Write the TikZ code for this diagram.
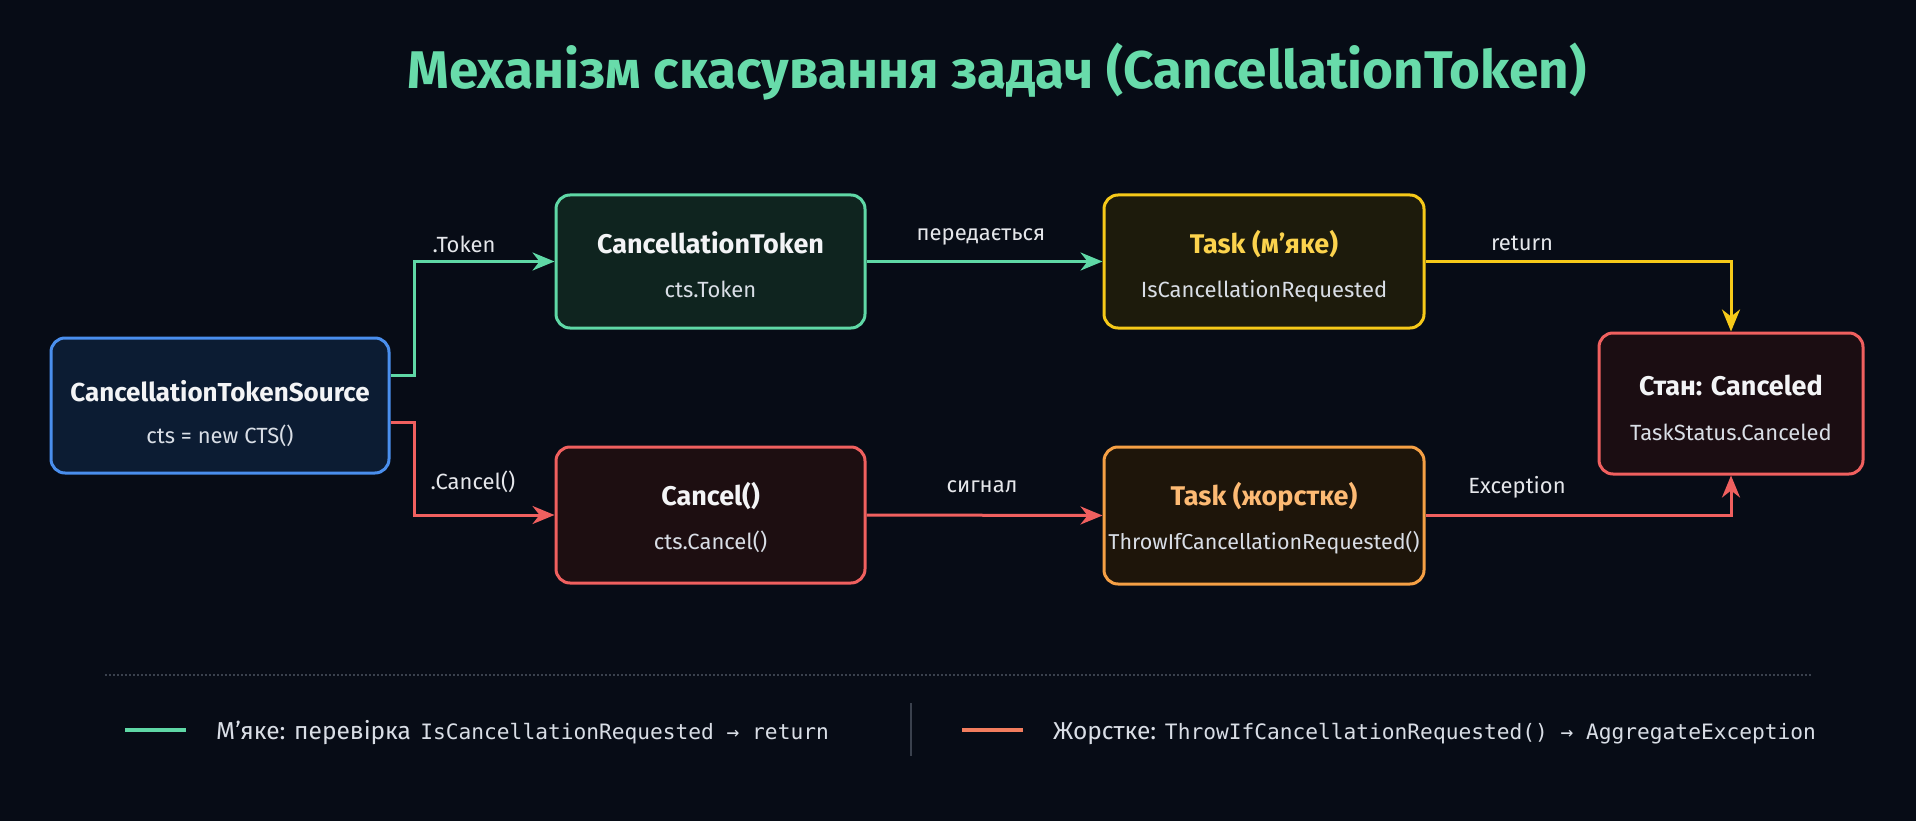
\documentclass[tikz,border=0pt]{standalone}
\usepackage{fontspec}
\setmainfont{Fira Sans}
\newfontfamily\monofam{DejaVu Sans Mono}
\usetikzlibrary{arrows.meta}
\definecolor{bgc}{HTML}{070C16}
\definecolor{headc}{HTML}{68DBAA}
\definecolor{grn}{HTML}{5FD8A6}
\definecolor{grnfill}{HTML}{0F241F}
\definecolor{blu}{HTML}{4A8FEE}
\definecolor{blufill}{HTML}{0C1C33}
\definecolor{yel}{HTML}{F6C919}
\definecolor{yelfill}{HTML}{1D1B0C}
\definecolor{yeltxt}{HTML}{FCD34D}
\definecolor{org}{HTML}{F5A045}
\definecolor{orgfill}{HTML}{1E150A}
\definecolor{orgtxt}{HTML}{FDBA74}
\definecolor{rdc}{HTML}{F0605F}
\definecolor{rdfill}{HTML}{1D0E11}
\definecolor{stfill}{HTML}{1B0D12}
\definecolor{txtw}{HTML}{F3F4F6}
\definecolor{txts}{HTML}{D9DEE6}
\definecolor{lblc}{HTML}{E5E7EB}
\definecolor{sepc}{HTML}{3A414D}
\definecolor{legorg}{HTML}{F27D5E}
\begin{document}
\begin{tikzpicture}[x=1pt,y=-1pt,
  box/.style={draw, line width=3pt, rounded corners=14pt, inner sep=0pt},
  ttl/.style={anchor=base, text=txtw, inner sep=0pt, font=\fontsize{27}{30}\selectfont\bfseries},
  sub/.style={anchor=base, text=txts, inner sep=0pt, font=\fontsize{22}{24}\selectfont},
  lbl/.style={text=lblc, inner sep=0pt, font=\fontsize{22}{24}\selectfont},
  conn/.style={line width=3pt, -{Stealth[length=22pt,width=18pt,inset=7pt]}},
  legtxt/.style={anchor=base west, text=txts, inner sep=0pt, font=\fontsize{24.5}{26}\selectfont},
]
\fill[bgc] (0,0) rectangle (1916,821);
\useasboundingbox (0,0) rectangle (1916,821);

% title
\node[anchor=base, text=headc, inner sep=0pt, font=\fontsize{53}{58}\selectfont\bfseries] (title) at (997,89) {Механізм скасування задач (CancellationToken)};

% boxes
\node[box, draw=blu, fill=blufill, minimum width=338pt, minimum height=135pt] (cts) at (220,405.5) {};
\node[box, draw=grn, fill=grnfill, minimum width=309pt, minimum height=133pt] (ct) at (710.5,261.5) {};
\node[box, draw=yel, fill=yelfill, minimum width=320pt, minimum height=133pt] (soft) at (1264,261.5) {};
\node[box, draw=rdc, fill=rdfill, minimum width=309pt, minimum height=136pt] (cancel) at (710.5,515) {};
\node[box, draw=org, fill=orgfill, minimum width=320pt, minimum height=137pt] (hard) at (1264,515.5) {};
\node[box, draw=rdc, fill=stfill, minimum width=264pt, minimum height=141pt] (state) at (1731,403.5) {};

% box texts
\node[ttl, font=\fontsize{26}{30}\selectfont\bfseries] (cts-t) at (220,401) {CancellationTokenSource};
\node[sub] (cts-s) at (220,443) {cts = new CTS()};
\node[ttl] (ct-t) at (710.5,253) {CancellationToken};
\node[sub] (ct-s) at (710.5,297) {cts.Token};
\node[ttl, text=yeltxt] (soft-t) at (1264,253) {Task (м’яке)};
\node[sub] (soft-s) at (1264,297) {IsCancellationRequested};
\node[ttl] (cancel-t) at (710.5,505) {Cancel()};
\node[sub] (cancel-s) at (710.5,549) {cts.Cancel()};
\node[ttl, text=orgtxt] (hard-t) at (1264,505) {Task (жорстке)};
\node[sub, font=\fontsize{21.5}{24}\selectfont] (hard-s) at (1264,549) {ThrowIfCancellationRequested()};
\node[ttl] (state-t) at (1731,395) {Стан: Canceled};
\node[sub] (state-s) at (1731,440) {TaskStatus.Canceled};

% connectors
\draw[conn, grn] ([yshift=30.5pt]cts.east) -- ++(24,0) |- (ct.west);
\draw[conn, rdc] ([yshift=-16.5pt]cts.east) -- ++(24,0) |- (cancel.west);
\draw[conn, grn] (ct.east) -- (soft.west);
\draw[conn, rdc] (cancel.east) -- (hard.west);
\draw[conn, yel] (soft.east) -| (state.north);
\draw[conn, rdc] (hard.east) -| (state.south);

% connector labels
\node[lbl] (l-token) at (464,244) {.Token};
\node[lbl] (l-cancel) at (473,482) {.Cancel()};
\node[lbl] (l-pass) at (981,237) {передається};
\node[lbl] (l-signal) at (982,487) {сигнал};
\node[lbl] (l-return) at (1522,243) {return};
\node[lbl] (l-exc) at (1517,487) {Exception};

% legend
\coordinate (d1) at (105,675);
\coordinate (d2) at (1812,675);
\draw[sepc, line width=1.2pt, dash pattern=on 2pt off 2pt] (d1) -- (d2);
\coordinate (g1) at (125,730);
\coordinate (g2) at (186,730);
\draw[grn, line width=4pt] (g1) -- (g2);
\node[legtxt] (leg1) at (216,739) {М’яке: перевірка\hspace{3pt} {\monofam\fontsize{21.2}{24}\selectfont IsCancellationRequested → return}};
\coordinate (s1) at (911,703);
\coordinate (s2) at (911,756);
\draw[sepc, line width=1.5pt] (s1) -- (s2);
\coordinate (o1) at (962,730);
\coordinate (o2) at (1023,730);
\draw[legorg, line width=4pt] (o1) -- (o2);
\node[legtxt] (leg2) at (1053,739) {Жорстке: {\monofam\fontsize{21.2}{24}\selectfont ThrowIfCancellationRequested() → AggregateException}};
\end{tikzpicture}
\end{document}
